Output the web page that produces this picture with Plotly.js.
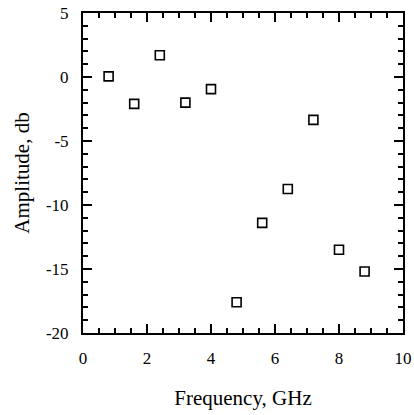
<!DOCTYPE html>
<html>
<head>
<meta charset="utf-8">
<script src="https://cdn.plot.ly/plotly-3.0.1.min.js"></script>
<style>html,body{margin:0;padding:0;background:#fff;}#chart{width:414px;height:415px;}</style>
</head>
<body>
<div id="chart"></div>
<script>
const frequency = [0.8, 1.6, 2.4, 3.2, 4.0, 4.8, 5.6, 6.4, 7.2, 8.0, 8.8];
const amplitude = [0.05, -2.1, 1.7, -2.0, -0.95, -17.6, -11.4, -8.75, -3.35, -13.5, -15.2];
const xTickVals = [0, 2, 4, 6, 8, 10];
const xTickText = ['0', '2', '4', '6', '8', '10'];
const yTickVals = [5, 0, -5, -10, -15, -20];
const yTickText = ['5', '0', '-5', '-10', '-15', '-20'];
const xTitle = 'Frequency, GHz';
const yTitle = 'Amplitude, db';

const tickFont = {family: 'Liberation Serif', size: 17, color: '#000'};
const titleFont = {family: 'Liberation Serif', size: 21, color: '#000'};

const trace = {
  x: frequency, y: amplitude, type: 'scatter', mode: 'markers',
  marker: {symbol: 'square-open', size: 9, color: '#000', line: {width: 1.6, color: '#000'}},
  showlegend: false
};

const axisCommon = {
  showline: true, linewidth: 2, linecolor: '#000', mirror: 'allticks',
  ticks: 'inside', ticklen: 9, tickwidth: 2, tickcolor: '#000',
  showgrid: false, zeroline: false, tickfont: tickFont, automargin: false
};

const layout = {
  width: 414, height: 415,
  margin: {l: 83, r: 11, t: 13, b: 82},
  paper_bgcolor: '#fff', plot_bgcolor: '#fff',
  font: tickFont,
  xaxis: Object.assign({}, axisCommon, {
    range: [0, 10], tickmode: 'array', tickvals: xTickVals, ticktext: xTickText,
    minor: {dtick: 0.5, tick0: 0, ticks: 'inside', ticklen: 5, tickwidth: 2, tickcolor: '#000'},
    ticklabelstandoff: 9,
    title: {text: xTitle, font: titleFont, standoff: 23}
  }),
  yaxis: Object.assign({}, axisCommon, {
    range: [-20, 5], tickmode: 'array', tickvals: yTickVals, ticktext: yTickText,
    minor: {dtick: 1, tick0: 0, ticks: 'inside', ticklen: 5, tickwidth: 2, tickcolor: '#000'},
    ticklabelstandoff: 9,
    title: {text: yTitle, font: titleFont, standoff: 11}
  })
};

Plotly.newPlot('chart', [trace], layout, {displayModeBar: false, staticPlot: true}).then(function () {
  document.querySelectorAll('.xtick text, .ytick text').forEach(function (t) {
    t.style.fontFamily = "'Liberation Serif'";
  });
});
</script>
</body>
</html>
